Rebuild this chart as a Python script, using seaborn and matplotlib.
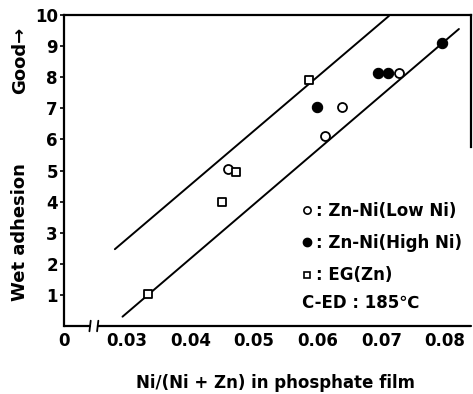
import matplotlib
matplotlib.use("Agg")
import matplotlib.pyplot as plt
from matplotlib.lines import Line2D
import seaborn as sns
import pandas as pd

# ---- data ----
low_ni_x = [0.0459, 0.0612, 0.0638, 0.0727]
low_ni_y = [5.04, 6.11, 7.03, 8.13]
high_ni_x = [0.0599, 0.0695, 0.0711, 0.0796]
high_ni_y = [7.05, 8.13, 8.13, 9.11]
eg_x = [0.0333, 0.0449, 0.0472, 0.0587]
eg_y = [1.02, 4.00, 4.96, 7.90]

upper_x = [0.0281, 0.0712]
upper_y = [2.47, 9.97]
lower_x = [0.0293, 0.0822]
lower_y = [0.30, 9.55]

x_ticks = [0.03, 0.04, 0.05, 0.06, 0.07, 0.08]
x_tick_labels = ["0.03", "0.04", "0.05", "0.06", "0.07", "0.08"]
y_ticks = [1, 2, 3, 4, 5, 6, 7, 8, 9, 10]
legend_labels = [": Zn-Ni(Low Ni)", ": Zn-Ni(High Ni)", ": EG(Zn)"]
note_text = "C-ED : 185℃"

# axis layout (broken x axis: "0" shown at the left spine)
x_zero_pos = 0.0201
x_break = [0.0242, 0.0254]
x_max = 0.0841

sns.set_theme(style="white")
plt.rcParams["font.family"] = ["DejaVu Sans"]
plt.rcParams["font.weight"] = "bold"
plt.rcParams["text.color"] = "black"
plt.rcParams["legend.labelcolor"] = "black"

fig = plt.figure(figsize=(4.73, 3.94), dpi=100)
ax = fig.add_axes([64 / 473, 1 - 326 / 394, (471 - 64) / 473, (326 - 15) / 394])

df_low = pd.DataFrame({"x": low_ni_x, "y": low_ni_y})
df_high = pd.DataFrame({"x": high_ni_x, "y": high_ni_y})
df_eg = pd.DataFrame({"x": eg_x, "y": eg_y})

sns.lineplot(x=upper_x, y=upper_y, ax=ax, color="black", linewidth=1.4, zorder=2)
sns.lineplot(x=lower_x, y=lower_y, ax=ax, color="black", linewidth=1.4, zorder=2)

sns.scatterplot(data=df_low, x="x", y="y", ax=ax, marker="o", s=42,
                facecolor="white", edgecolor="black", linewidth=1.3, zorder=3)
sns.scatterplot(data=df_high, x="x", y="y", ax=ax, marker="o", s=55,
                color="black", edgecolor="black", linewidth=0.8, zorder=3)
sns.scatterplot(data=df_eg, x="x", y="y", ax=ax, marker="s", s=38,
                facecolor="white", edgecolor="black", linewidth=1.3, zorder=3)

ax.set_xlim(x_zero_pos, x_max)
ax.set_ylim(0, 10)
ax.set_xlabel("")
ax.set_ylabel("")

ax.set_xticks([x_zero_pos] + x_ticks)
ax.set_xticklabels(["0"] + x_tick_labels, fontsize=12, fontweight="bold")
ax.set_yticks(y_ticks)
ax.set_yticklabels([str(v) for v in y_ticks], fontsize=12, fontweight="bold")

ax.tick_params(axis="x", direction="in", length=3, width=1, pad=4, colors="black")
ax.tick_params(axis="y", direction="out", length=3, width=1.2, pad=1.5, colors="black", left=True)
ax.xaxis.get_major_ticks()[0].tick1line.set_visible(False)

for side in ["left", "top", "right"]:
    ax.spines[side].set_color("black")
    ax.spines[side].set_linewidth(1.6)
ax.spines["right"].set_bounds(5.75, 10)
ax.spines["bottom"].set_visible(False)

# broken bottom axis
ax.plot([x_zero_pos, x_break[0]], [0, 0], color="black", lw=1.6, clip_on=False, zorder=4)
ax.plot([x_break[1], x_max], [0, 0], color="black", lw=1.6, clip_on=False, zorder=4)
for xb in x_break:
    ax.plot([xb - 0.0001, xb + 0.0001], [-0.17, 0.17], color="black", lw=1.3,
            clip_on=False, zorder=4)

# legend
handles = [
    Line2D([], [], linestyle="none", marker="o", markersize=5.2,
           markerfacecolor="white", markeredgecolor="black", markeredgewidth=1.2),
    Line2D([], [], linestyle="none", marker="o", markersize=6,
           markerfacecolor="black", markeredgecolor="black"),
    Line2D([], [], linestyle="none", marker="s", markersize=5,
           markerfacecolor="white", markeredgecolor="black", markeredgewidth=1.2),
]
leg = ax.legend(handles, legend_labels, loc="upper left",
                bbox_to_anchor=((302 - 64) / 407, 1 - (202 - 15) / 311),
                frameon=False, handlelength=0.6, handletextpad=0.25,
                labelspacing=0.85, borderpad=0, borderaxespad=0,
                prop={"size": 12, "weight": "bold"})
for t in leg.get_texts():
    t.set_color("black")
ax.text((302 - 64) / 407, 1 - (303 - 15) / 311, note_text, transform=ax.transAxes,
        fontsize=12, fontweight="bold", va="center", ha="left", color="black")

# axis titles
fig.text(276 / 473, 1 - 383 / 394, "Ni/(Ni + Zn) in phosphate film",
         ha="center", va="center", fontsize=12, fontweight="bold", color="black")
fig.text(20 / 473, 1 - 232 / 394, "Wet adhesion", rotation=90,
         ha="center", va="center", fontsize=13, fontweight="bold", color="black")
fig.text(20 / 473, 1 - 60 / 394, "Good→", rotation=90,
         ha="center", va="center", fontsize=13, fontweight="bold", color="black")

fig.savefig("out.png", dpi=100)
